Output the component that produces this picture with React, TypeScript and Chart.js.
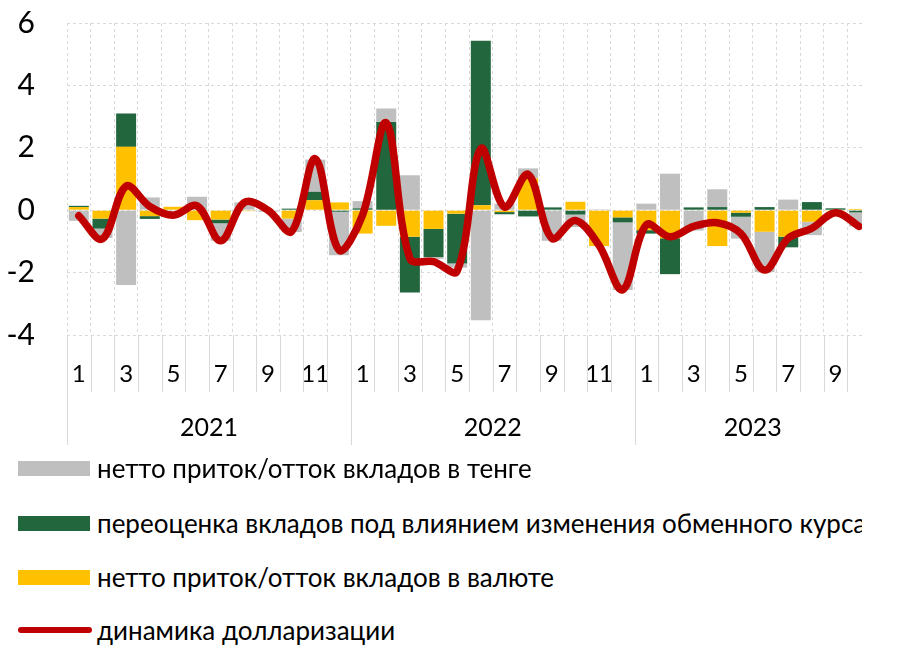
import React, { useEffect, useRef } from 'react';
import { Chart, registerables } from 'chart.js';

Chart.register(...registerables);

// ---- data ----
const months = [
  '1','2','3','4','5','6','7','8','9','10','11','12',
  '1','2','3','4','5','6','7','8','9','10','11','12',
  '1','2','3','4','5','6','7','8','9','10',
];
const years = ['2021', '2022', '2023'];
const monthsPerYear = [12, 12, 10];
const yTicks = [-4, -2, 0, 2, 4, 6];

// нетто приток/отток вкладов в валюте
const fxNet = [
  0.10, -0.27, 2.03, -0.19, 0.11, -0.32, -0.30, -0.03, 0.00, -0.27, 0.32, 0.25,
  -0.75, -0.50, -0.85, -0.60, -0.11, 0.16, -0.06, 1.02, 0.00, 0.27, -1.15, -0.23,
  -0.64, -0.90, 0.00, -1.15, -0.08, -0.69, -0.85, -0.37, -0.03, 0.04,
];
// переоценка вкладов под влиянием изменения обменного курса
const revaluation = [
  0.04, -0.32, 1.07, -0.09, 0.00, 0.00, -0.12, 0.00, 0.00, 0.05, 0.27, -0.05,
  0.06, 2.83, -1.79, -0.90, -1.60, 5.27, -0.07, -0.20, 0.09, -0.14, 0.00, -0.16,
  -0.11, -1.15, 0.09, 0.10, -0.13, 0.10, -0.34, 0.26, 0.06, -0.07,
];
// нетто приток/отток вкладов в тенге
const tengeNet = [
  -0.34, -0.30, -2.40, 0.41, -0.06, 0.43, -0.56, 0.25, -0.05, -0.43, 1.03, -1.39,
  0.23, 0.43, 1.12, -0.06, -0.13, -3.53, 0.21, 0.32, -0.98, -0.40, 0.03, -2.17,
  0.21, 1.17, -0.65, 0.57, -0.70, -1.29, 0.34, -0.43, 0.00, -0.45,
];
// динамика долларизации
const dollarization = [
  -0.18, -0.92, 0.77, 0.12, -0.16, 0.14, -0.98, 0.25, 0.00, -0.68, 1.65, -1.28,
  -0.15, 2.80, -1.55, -1.65, -1.95, 1.97, 0.10, 1.15, -0.90, -0.33, -1.13, -2.55,
  -0.47, -0.85, -0.52, -0.40, -0.75, -1.92, -0.90, -0.58, -0.08, -0.52,
];

const legendItems = [
  { label: 'нетто приток/отток вкладов в тенге', color: '#BFBFBF', kind: 'box' },
  { label: 'переоценка вкладов под влиянием изменения обменного курса', color: '#22663E', kind: 'box' },
  { label: 'нетто приток/отток вкладов в валюте', color: '#FFC000', kind: 'box' },
  { label: 'динамика долларизации', color: '#C00000', kind: 'line' },
];

const FONT = 'Lato, "Noto Sans", sans-serif';

const axisDecor = {
  id: 'axisDecor',
  afterDraw(chart: any) {
    const { ctx, chartArea, scales } = chart;
    const x = scales.x;
    const w = x.getPixelForValue(1) - x.getPixelForValue(0);
    const first = x.getPixelForValue(0) - w / 2;
    const bottom = chartArea.bottom;
    ctx.save();
    ctx.strokeStyle = '#d9d9d9';
    ctx.lineWidth = 1;
    for (let i = 0; i <= months.length; i++) {
      const px = Math.round(first + i * w) + 0.5;
      ctx.beginPath();
      ctx.moveTo(px, bottom);
      ctx.lineTo(px, bottom + 57);
      ctx.stroke();
    }
    let start = 0;
    ctx.fillStyle = '#000';
    ctx.font = '25px ' + FONT;
    ctx.textAlign = 'center';
    ctx.textBaseline = 'middle';
    years.forEach((yr, k) => {
      const left = x.getPixelForValue(start) - w / 2;
      const right = x.getPixelForValue(start + monthsPerYear[k] - 1) + w / 2;
      const lp = Math.round(left) + 0.5;
      ctx.beginPath();
      ctx.moveTo(lp, bottom);
      ctx.lineTo(lp, bottom + 110);
      ctx.stroke();
      ctx.fillText(yr, (left + right) / 2, bottom + 93);
      start += monthsPerYear[k];
    });
    ctx.restore();
  },
};

export default function App() {
  const ref = useRef<HTMLCanvasElement>(null);

  useEffect(() => {
    if (!ref.current) return;
    const chart = new Chart(ref.current, {
      type: 'bar',
      data: {
        labels: months,
        datasets: [
          {
            type: 'line',
            label: legendItems[3].label,
            data: dollarization,
            borderColor: '#C00000',
            borderWidth: 7.5,
            pointRadius: 0,
            tension: 0.35,
            borderCapStyle: 'round',
            borderJoinStyle: 'round',
            stack: 'line',
            order: 0,
          } as any,
          {
            label: legendItems[2].label,
            data: fxNet,
            backgroundColor: '#FFC000',
            stack: 'bars',
            order: 1,
          },
          {
            label: legendItems[1].label,
            data: revaluation,
            backgroundColor: '#22663E',
            stack: 'bars',
            order: 1,
          },
          {
            label: legendItems[0].label,
            data: tengeNet,
            backgroundColor: '#BFBFBF',
            stack: 'bars',
            order: 1,
          },
        ],
      },
      options: {
        animation: false,
        responsive: false,
        devicePixelRatio: 1,
        layout: { padding: { top: 23, right: 9, left: 0, bottom: 0 } },
        datasets: { bar: { categoryPercentage: 1, barPercentage: 0.845, borderWidth: 0 } },
        plugins: { legend: { display: false }, tooltip: { enabled: false } },
        scales: {
          x: {
            stacked: true,
            grid: { offset: true, color: '#d9d9d9', drawTicks: false },
            border: { display: false, dash: [3, 3] },
            ticks: {
              autoSkip: false,
              maxRotation: 0,
              padding: 25,
              color: '#000',
              font: { size: 24, family: FONT },
              callback: (_v: any, i: number) => (i % 2 === 0 ? months[i] : ''),
            },
            afterFit: (s: any) => {
              s.height = 125;
              s.paddingLeft = 0;
              s.paddingRight = 0;
            },
          },
          y: {
            stacked: true,
            min: -4,
            max: 6,
            grid: { color: '#d9d9d9', drawTicks: false },
            border: { display: false, dash: [3, 3] },
            afterBuildTicks: (s: any) => { s.ticks = yTicks.map((v) => ({ value: v })); },
            ticks: {
              padding: 32,
              color: '#000',
              font: { size: 30, family: FONT },
            },
            afterFit: (s: any) => {
              s.width = 67;
              s.paddingTop = 0;
              s.paddingBottom = 0;
            },
          },
        },
      } as any,
      plugins: [axisDecor],
    });
    return () => chart.destroy();
  }, []);

  return (
    <div style={{ position: 'absolute', left: 0, top: 0, width: 862, height: 647, overflow: 'hidden', background: '#fff', fontFamily: FONT }}>
      <canvas ref={ref} width={880} height={460} style={{ position: 'absolute', left: 0, top: 0, width: 880, height: 460 }} />
      {legendItems.map((it, k) => {
        const cy = [468, 523, 577, 630][k];
        return (
          <div key={k}>
            {it.kind === 'box' ? (
              <div style={{ position: 'absolute', left: 18, top: cy - 7, width: 72, height: 15, background: it.color }} />
            ) : (
              <div style={{ position: 'absolute', left: 18, top: cy - 3, width: 74, height: 6, borderRadius: 3, background: it.color }} />
            )}
            <div style={{ position: 'absolute', left: 97, top: cy - 16, height: 32, lineHeight: '32px', fontSize: 26, color: '#000', whiteSpace: 'nowrap' }}>
              {it.label}
            </div>
          </div>
        );
      })}
    </div>
  );
}
